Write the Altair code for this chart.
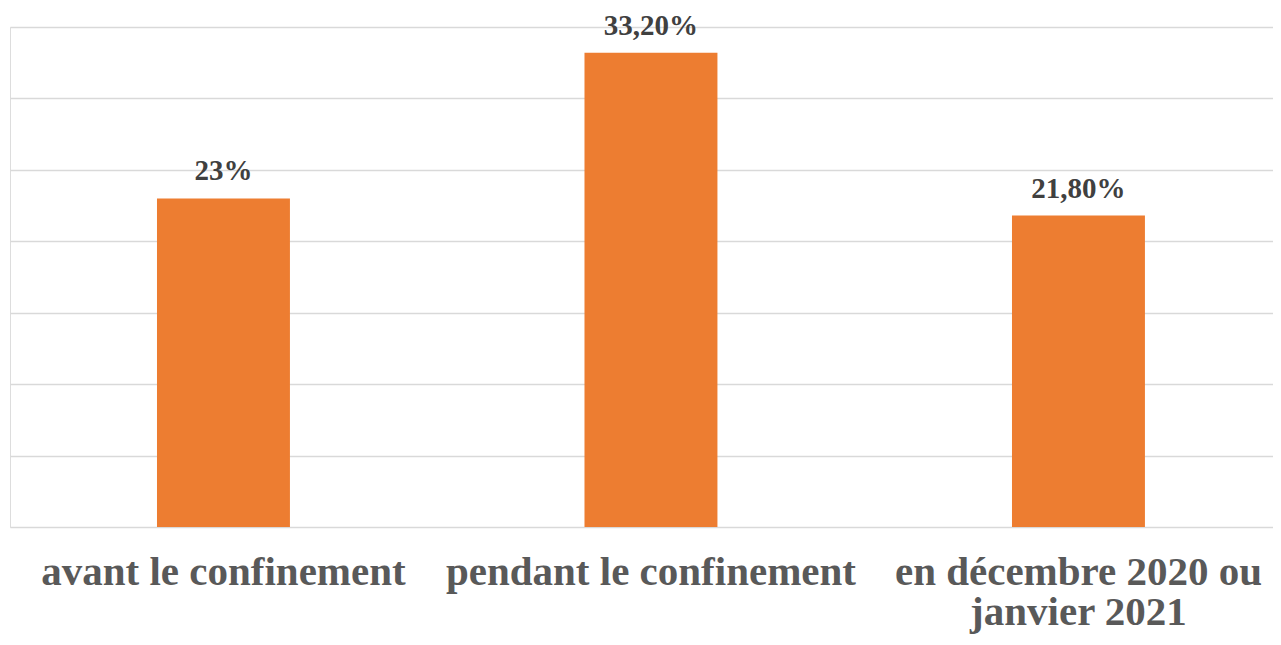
import altair as alt
import pandas as pd

categories = ["avant le confinement", "pendant le confinement", "en décembre 2020 ou janvier 2021"]
values = [23, 33.2, 21.8]
value_labels = ["23%", "33,20%", "21,80%"]
y_ticks = [0, 5, 10, 15, 20, 25, 30, 35]

df = pd.DataFrame({"cat": categories, "val": values, "lab": value_labels})

FONT = "Liberation Serif"

x = alt.X(
    "cat:N",
    sort=categories,
    scale=alt.Scale(paddingInner=0.689, paddingOuter=0.3217, align=0.5344),
    axis=alt.Axis(
        title=None,
        domain=False,
        ticks=False,
        grid=False,
        labelAngle=0,
        labelFont=FONT,
        labelFontSize=41,
        labelFontWeight="bold",
        labelColor="#595959",
        labelBaseline="alphabetic",
        labelPadding=57,
        labelLineHeight=40,
        labelLimit=0,
        labelOverlap=False,
        labelExpr="datum.label == 'en décembre 2020 ou janvier 2021' ? ['en décembre 2020 ou', 'janvier 2021'] : datum.label",
    ),
)
y = alt.Y(
    "val:Q",
    scale=alt.Scale(domain=[0, 35], nice=False, zero=True),
    axis=alt.Axis(
        title=None,
        values=y_ticks,
        labels=False,
        ticks=False,
        domain=False,
        grid=True,
        gridColor="#d9d9d9",
        gridWidth=1.5,
    ),
)

bars = alt.Chart(df).mark_bar(color="#ED7D31").encode(x=x, y=y)
text = alt.Chart(df).mark_text(
    font=FONT, fontSize=29, fontWeight="bold", color="#404040", baseline="alphabetic", dy=-18
).encode(x=x, y="val:Q", text="lab:N")

chart = (
    alt.layer(bars, text)
    .properties(
        width=1263,
        height=500,
        autosize=alt.AutoSizeParams(type="none"),
        padding={"left": 2, "top": 19, "right": 0, "bottom": 107},
    )
    .configure_view(stroke=None)
    .configure(background="white")
)

chart.save("out.html", embed_options={"renderer": "svg", "actions": False})
